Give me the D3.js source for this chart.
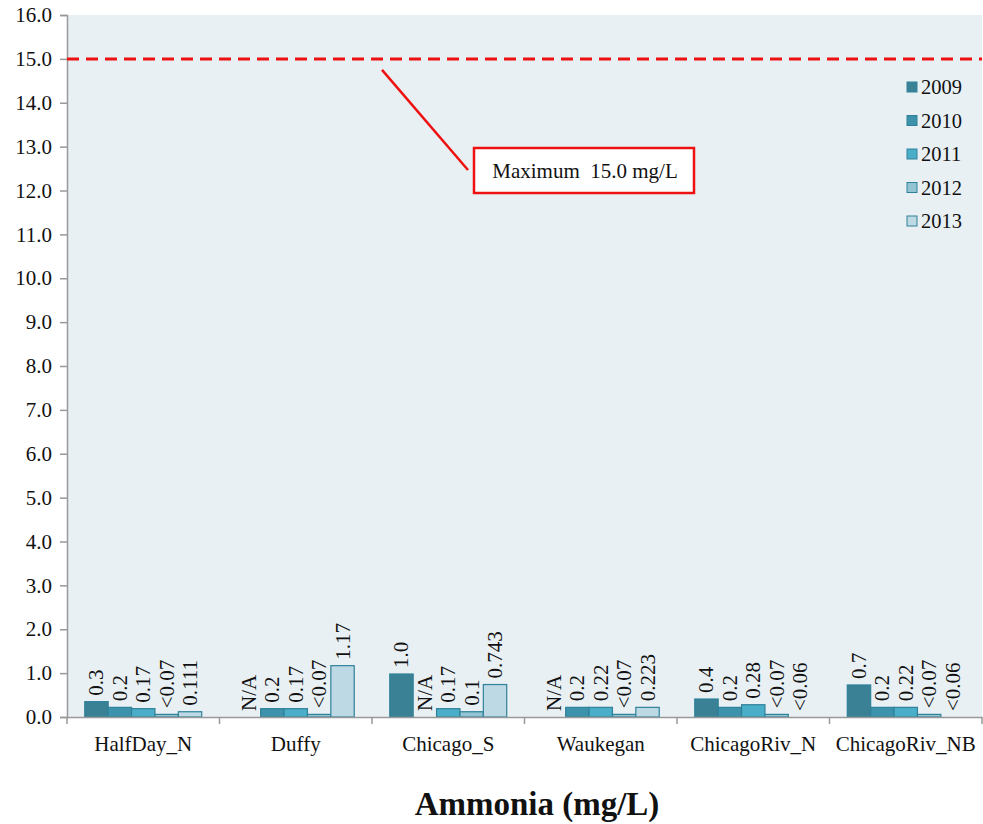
<!DOCTYPE html>
<html><head><meta charset="utf-8">
<script src="https://cdn.jsdelivr.net/npm/d3@7"></script>
<style>body{margin:0;background:#fff}svg{display:block}</style>
</head><body>
<svg id="c" width="983" height="824"></svg>
<script>
const categories = ["HalfDay_N","Duffy","Chicago_S","Waukegan","ChicagoRiv_N","ChicagoRiv_NB"];
const years = ["2009","2010","2011","2012","2013"];
const v2009 = [0.35, 0, 0.98, 0, 0.41, 0.73];
const v2010 = [0.22, 0.19, 0, 0.22, 0.22, 0.22];
const v2011 = [0.19, 0.19, 0.19, 0.22, 0.28, 0.22];
const v2012 = [0.06, 0.06, 0.12, 0.06, 0.06, 0.06];
const v2013 = [0.12, 1.17, 0.74, 0.22, 0, 0];
const l2009 = ["0.3","N/A","1.0","N/A","0.4","0.7"];
const l2010 = ["0.2","0.2","N/A","0.2","0.2","0.2"];
const l2011 = ["0.17","0.17","0.17","0.22","0.28","0.22"];
const l2012 = ["<0.07","<0.07","0.1","<0.07","<0.07","<0.07"];
const l2013 = ["0.111","1.17","0.743","0.223","<0.06","<0.06"];
const yTicks = d3.range(0, 16.5, 1);
const maxLimit = 15.0;
const annotationText = "Maximum  15.0 mg/L";
const title = "Ammonia (mg/L)";
const colors = ["#3a8196","#3c93ab","#4aaec8","#92c4d4","#bcd9e4"];

const values = [v2009, v2010, v2011, v2012, v2013];
const labels = [l2009, l2010, l2011, l2012, l2013];

const svg = d3.select("#c");
const font = "Liberation Serif, Times New Roman, serif";
const L = 67, R = 982, T = 15, B = 717;

svg.append("rect").attr("x", L).attr("y", T).attr("width", R - L).attr("height", B - T).attr("fill", "#e8f0f4");

const x = d3.scaleBand().domain(categories).range([L, R]).paddingInner(0).paddingOuter(0);
const xi = d3.scaleBand().domain(years).range([0, x.bandwidth()]).paddingInner(0).paddingOuter(0.76);
const y = d3.scaleLinear().domain([0, 16]).range([B, T]);

// y axis
const ya = svg.append("g").attr("transform", `translate(${L},0)`)
  .call(d3.axisLeft(y).tickValues(yTicks).tickFormat(d3.format(".1f")).tickSizeOuter(0).tickSize(7).tickPadding(8));
ya.select(".domain").attr("stroke", "#999").attr("stroke-width", 1.5);
ya.selectAll(".tick line").attr("stroke", "#999").attr("stroke-width", 1.5);
ya.selectAll("text").attr("font-family", font).attr("font-size", 21).attr("fill", "#111");

// bars
const g = svg.append("g");
years.forEach((yr, i) => {
  categories.forEach((c, j) => {
    const val = values[i][j];
    const bx = x(c) + xi(yr);
    if (val > 0) {
      g.append("rect").attr("x", bx).attr("y", y(val)).attr("width", xi.bandwidth()).attr("height", y(0) - y(val))
        .attr("fill", colors[i]).attr("stroke", "#2f8199").attr("stroke-width", 1.2);
    }
    const tx = bx + xi.bandwidth() / 2 + 7;
    const ty = y(val) - 6;
    g.append("text").attr("transform", `translate(${tx},${ty}) rotate(-90)`)
      .attr("font-family", font).attr("font-size", 21).attr("fill", "#111").text(labels[i][j]);
  });
});

// x axis
const xa = svg.append("g").attr("transform", `translate(0,${B})`)
  .call(d3.axisBottom(x).tickSize(0).tickPadding(19).tickSizeOuter(0));
xa.select(".domain").attr("stroke", "#999").attr("stroke-width", 1.5);
xa.selectAll("text").attr("font-family", font).attr("font-size", 21).attr("fill", "#111");
const bounds = categories.map(c => x(c)).concat([R]);
svg.append("g").selectAll("line").data(bounds).join("line")
  .attr("x1", d => d).attr("x2", d => d).attr("y1", B).attr("y2", B + 7)
  .attr("stroke", "#999").attr("stroke-width", 1.5);

// max line
svg.append("line").attr("x1", L).attr("x2", R).attr("y1", y(maxLimit)).attr("y2", y(maxLimit))
  .attr("stroke", "#ee1111").attr("stroke-width", 3).attr("stroke-dasharray", "12,7");

// annotation
svg.append("line").attr("x1", 382).attr("y1", y(maxLimit) + 11).attr("x2", 468).attr("y2", 170)
  .attr("stroke", "#ee1111").attr("stroke-width", 2.5);
svg.append("rect").attr("x", 474).attr("y", 148).attr("width", 220).attr("height", 45)
  .attr("fill", "#fff").attr("stroke", "#ee1111").attr("stroke-width", 2.5);
svg.append("text").attr("x", 585).attr("y", 178).attr("text-anchor", "middle")
  .attr("font-family", font).attr("font-size", 21).attr("fill", "#111")
  .style("white-space", "pre").attr("xml:space", "preserve").text(annotationText);

// legend
const lg = svg.append("g");
years.forEach((yr, i) => {
  const ly = 87 + i * 33.5;
  lg.append("rect").attr("x", 907).attr("y", ly - 5).attr("width", 10).attr("height", 10)
    .attr("fill", colors[i]).attr("stroke", "#2f8199").attr("stroke-width", 1);
  lg.append("text").attr("x", 921).attr("y", ly + 7).attr("font-family", font).attr("font-size", 20.5)
    .attr("fill", "#111").text(yr);
});

// title
svg.append("text").attr("x", 537).attr("y", 815).attr("text-anchor", "middle")
  .attr("font-family", font).attr("font-size", 33).attr("font-weight", "bold").attr("fill", "#111").text(title);
</script>
</body></html>
